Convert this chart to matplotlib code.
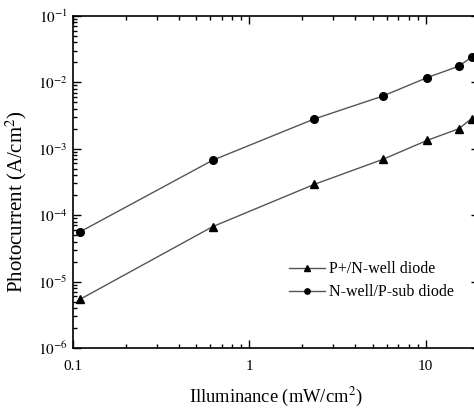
import math
import matplotlib
matplotlib.use("Agg")
import matplotlib.pyplot as plt
from matplotlib.ticker import LogLocator, FuncFormatter, NullFormatter

# ---------------------------------------------------------------------------
# Data
# ---------------------------------------------------------------------------
illuminance = [0.11, 0.62, 2.33, 5.7, 10.2, 15.4, 18.2]
pn_well = [5.4e-6, 6.7e-5, 2.9e-4, 6.9e-4, 1.34e-3, 2.0e-3, 2.85e-3]
nwell_psub = [5.6e-5, 6.7e-4, 2.8e-3, 6.2e-3, 1.18e-2, 1.75e-2, 2.4e-2]
series_labels = ["P+/N-well diode", "N-well/P-sub diode"]

x_ticks = [0.1, 1, 10]
x_tick_labels = ["0.1", "1", "10"]

plt.rcParams["font.family"] = ["Liberation Serif", "DejaVu Serif"]
plt.rcParams["mathtext.fontset"] = "stix"

fig = plt.figure(figsize=(4.74, 4.13), dpi=100)
# axes run slightly past the right edge, as in the cropped original
ax = fig.add_axes([0.1532, 0.1574, 0.857, 0.804])

ax.plot(illuminance, pn_well, color="#555555", linewidth=1.0,
        marker="^", markersize=6, markerfacecolor="black",
        markeredgecolor="black", label=series_labels[0])
ax.plot(illuminance, nwell_psub, color="#555555", linewidth=1.0,
        marker="o", markersize=5.5, markerfacecolor="black",
        markeredgecolor="black", label=series_labels[1])

ax.set_xscale("log")
ax.set_yscale("log")
ax.set_xlim(0.1, 20)
ax.set_ylim(1e-6, 1e-1)

ax.set_xticks(x_ticks)
ax.set_xticklabels(x_tick_labels)
ax.xaxis.set_minor_locator(LogLocator(base=10, subs=range(2, 10)))
ax.xaxis.set_minor_formatter(NullFormatter())
ax.yaxis.set_major_locator(LogLocator(base=10, numticks=10))
ax.yaxis.set_minor_locator(LogLocator(base=10, subs=range(2, 10), numticks=10))
ax.yaxis.set_major_formatter(FuncFormatter(lambda v, p: r"$10^{%d}$" % round(math.log10(v))))
ax.yaxis.set_minor_formatter(NullFormatter())

ax.tick_params(which="both", direction="in", top=True, right=True,
               labelsize=11, width=1.0)
ax.tick_params(which="major", length=6)
ax.tick_params(which="minor", length=3)
ax.tick_params(axis="x", pad=9)
for s in ax.spines.values():
    s.set_linewidth(1.2)

ax.set_xlabel("Illuminance (mW/cm$^2$)", fontsize=13.3, labelpad=9)
ax.set_ylabel("Photocurrent (A/cm$^2$)", fontsize=15)
ax.yaxis.set_label_coords(-0.108, 0.44)

ax.legend(loc="lower right", bbox_to_anchor=(0.975, 0.1), frameon=False,
          fontsize=11.5, handlelength=2.2, markerscale=0.7,
          handletextpad=0.3, labelspacing=0.45)

fig.savefig("out.png", dpi=100)
